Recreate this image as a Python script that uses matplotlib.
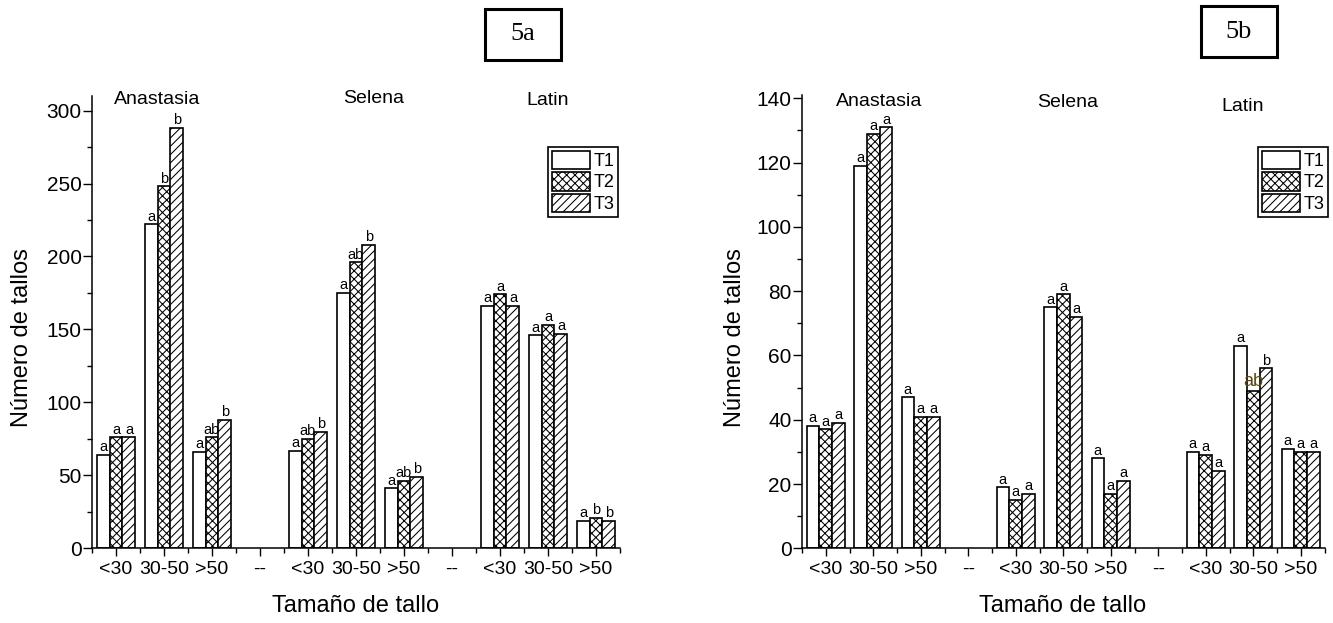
import matplotlib
matplotlib.use("Agg")
import matplotlib.pyplot as plt
from matplotlib.patches import Rectangle
from matplotlib.ticker import MultipleLocator
import numpy as np

plt.rcParams["font.family"] = ["Liberation Sans", "DejaVu Sans"]
plt.rcParams["hatch.linewidth"] = 0.75

# categories along the x axis ("--" are the empty separators)
categories = ["<30", "30-50", ">50", "--", "<30", "30-50", ">50", "--", "<30", "30-50", ">50"]
bar_slots = [1, 2, 3, 5, 6, 7, 9, 10, 11]
series = ["T1", "T2", "T3"]
varieties = ["Anastasia", "Selena", "Latin"]

# 5a values
t1_a = [64, 222, 66, 67, 175, 41, 166, 146, 19]
t2_a = [76, 248, 76, 75, 196, 46, 174, 153, 21]
t3_a = [76, 288, 88, 80, 208, 49, 166, 147, 19]
let1_a = ["a", "a", "a", "a", "a", "a", "a", "a", "a"]
let2_a = ["a", "b", "ab", "ab", "ab", "ab", "a", "a", "b"]
let3_a = ["a", "b", "b", "b", "b", "b", "a", "a", "b"]

# 5b values
t1_b = [38, 119, 47, 19, 75, 28, 30, 63, 31]
t2_b = [37, 129, 41, 15, 79, 17, 29, 49, 30]
t3_b = [39, 131, 41, 17, 72, 21, 24, 56, 30]
let1_b = ["a", "a", "a", "a", "a", "a", "a", "a", "a"]
let2_b = ["a", "a", "a", "a", "a", "a", "a", "ab", "a"]
let3_b = ["a", "a", "a", "a", "a", "a", "a", "b", "a"]

W, H = 1333, 623
fig = plt.figure(figsize=(W / 100, H / 100), dpi=100)

hatches = ["", "xxxx", "////"]
width = 0.27


def draw_panel(rect, vals, lets, ymax, ymaj, ymin, name_pos, legend_xy, special=None):
    ax = fig.add_axes(rect)
    x = np.array(bar_slots, dtype=float)
    handles = []
    for i, (v, lt) in enumerate(zip(vals, lets)):
        xs = x + (i - 1) * width
        bars = ax.bar(xs, v, width, color="white", edgecolor="black",
                      linewidth=1.2, hatch=hatches[i], label=series[i])
        handles.append(bars)
        for j, (xx, yy, s) in enumerate(zip(xs, v, lt)):
            if special is not None and (i, j) == special:
                ax.annotate(s, (xx, yy), xytext=(0, 6.5), textcoords="offset points",
                            ha="center", va="center", fontsize=13, color="#5e4613")
            else:
                ax.annotate(s, (xx, yy), xytext=(0, 0.5), textcoords="offset points",
                            ha="center", va="bottom", fontsize=10.5)
    ax.set_xlim(0.5, 11.5)
    ax.set_ylim(0, ymax)
    ax.set_xticks(range(1, 12))
    ax.set_xticklabels(categories, fontsize=14)
    ax.set_xticks(np.arange(0.5, 12, 1.0), minor=True)
    ax.yaxis.set_major_locator(MultipleLocator(ymaj))
    ax.yaxis.set_minor_locator(MultipleLocator(ymin))
    ax.tick_params(axis="y", which="major", labelsize=15, length=6.5, width=1, pad=1)
    ax.tick_params(axis="x", which="major", length=6, width=1, pad=3)
    ax.tick_params(which="minor", length=3.5, width=1)
    for s in ["top", "right"]:
        ax.spines[s].set_visible(False)
    for s in ["left", "bottom"]:
        ax.spines[s].set_linewidth(1.1)
    for name, (px, py) in zip(varieties, name_pos):
        ax.text(px, py, name, ha="center", va="center", fontsize=14)
    leg = ax.legend(handles, series, loc="upper left",
                    bbox_to_anchor=(legend_xy[0] / W, 1 - legend_xy[1] / H),
                    bbox_transform=fig.transFigure, fancybox=False, edgecolor="black",
                    framealpha=1, fontsize=13, handlelength=2.1, handleheight=1.2,
                    labelspacing=0.12, handletextpad=0.2, borderpad=0.2, borderaxespad=0)
    leg.get_frame().set_linewidth(1.2)
    return ax


ax1 = draw_panel([92 / W, 74.7 / H, 528 / W, 452.3 / H],
                 [t1_a, t2_a, t3_a], [let1_a, let2_a, let3_a], 310, 50, 25,
                 [(1.85, 307.7), (6.37, 308), (10.0, 306.6)], (548, 147))
ax2 = draw_panel([802 / W, 74.7 / H, 522.5 / W, 453.2 / H],
                 [t1_b, t2_b, t3_b], [let1_b, let2_b, let3_b], 141, 20, 10,
                 [(2.12, 139), (6.09, 138.6), (9.77, 137.4)], (1258, 147), special=(1, 7))

for cx in [356, 1063]:
    fig.text(cx / W, 1 - 606 / H, "Tamaño de tallo", ha="center", va="center", fontsize=17)
for cx in [22, 735]:
    fig.text(cx / W, 1 - 338 / H, "Número de tallos", ha="center", va="center",
             rotation=90, fontsize=17)

# panel tags
for (x0, y0, x1, y1, tag) in [(485, 9, 561, 60, "5a"), (1201, 6, 1277, 57, "5b")]:
    fig.add_artist(Rectangle((x0 / W, 1 - y1 / H), (x1 - x0) / W, (y1 - y0) / H,
                             transform=fig.transFigure, fill=False, edgecolor="black",
                             linewidth=2.2))
    fig.text((x0 + x1) / 2 / W, 1 - (y0 + y1) / 2 / H, tag, ha="center", va="center",
             fontsize=19, family=["Liberation Serif", "DejaVu Serif"])

fig.savefig("out.png", dpi=100)
